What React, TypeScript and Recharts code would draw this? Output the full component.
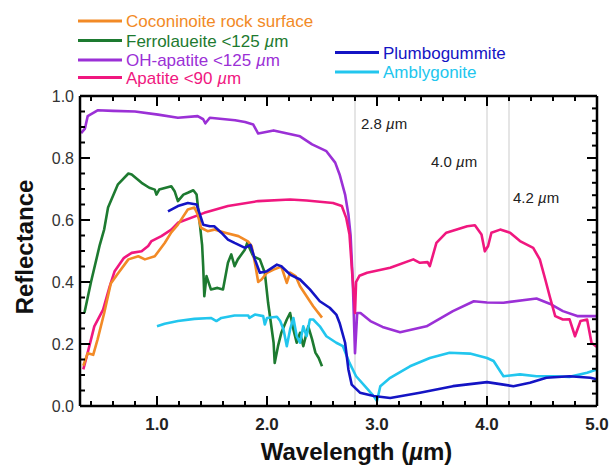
import React from "react"
import { LineChart, Line, XAxis, YAxis, ReferenceLine } from "recharts"

const FONT = '"Liberation Sans", Arial, Helvetica, sans-serif'

// tick values
const xTicks = [0.4, 0.6, 0.8, 1.0, 1.2, 1.4, 1.6, 1.8, 2.0, 2.2, 2.4, 2.6, 2.8, 3.0, 3.2, 3.4, 3.6, 3.8, 4.0, 4.2, 4.4, 4.6, 4.8, 5.0]
const yTicksLeft = [0, 0.05, 0.1, 0.15, 0.2, 0.25, 0.3, 0.35, 0.4, 0.45, 0.5, 0.55, 0.6, 0.65, 0.7, 0.75, 0.8, 0.85, 0.9, 0.95, 1.0]
const yTicksRight = [0, 0.04, 0.08, 0.12, 0.16, 0.2, 0.24, 0.28, 0.32, 0.36, 0.4, 0.44, 0.48, 0.52, 0.56, 0.6, 0.64, 0.68, 0.72, 0.76, 0.8, 0.84, 0.88, 0.92, 0.96, 1.0]
const markers = [2.8, 4.0, 4.2]

// Coconinoite rock surface
const cocoWl = [0.33, 0.37, 0.42, 0.46, 0.52, 0.58, 0.64, 0.74, 0.83, 0.89, 0.98, 1.07, 1.13, 1.19, 1.28, 1.34, 1.37, 1.40, 1.46, 1.52, 1.62, 1.74, 1.83, 1.86, 1.89, 1.92, 1.95, 2.00, 2.06, 2.13, 2.18, 2.21, 2.26, 2.30, 2.36, 2.42, 2.50]
const cocoR = [0.13, 0.17, 0.165, 0.215, 0.30, 0.395, 0.425, 0.473, 0.483, 0.473, 0.483, 0.526, 0.56, 0.585, 0.634, 0.64, 0.618, 0.575, 0.564, 0.569, 0.559, 0.548, 0.53, 0.516, 0.462, 0.40, 0.408, 0.43, 0.44, 0.45, 0.397, 0.43, 0.419, 0.386, 0.354, 0.322, 0.285]

// Ferrolaueite <125 µm
const ferroWl = [0.34, 0.40, 0.46, 0.48, 0.52, 0.555, 0.645, 0.74, 0.77, 0.86, 0.93, 0.98, 0.995, 1.02, 1.13, 1.16, 1.19, 1.24, 1.28, 1.33, 1.36, 1.39, 1.41, 1.42, 1.43, 1.45, 1.49, 1.55, 1.60, 1.645, 1.675, 1.705, 1.735, 1.80, 1.82, 1.875, 1.935, 1.98, 2.01, 2.06, 2.07, 2.10, 2.13, 2.18, 2.21, 2.24, 2.27, 2.30, 2.33, 2.375, 2.41, 2.44, 2.47, 2.50]
const ferroR = [0.30, 0.40, 0.49, 0.52, 0.57, 0.64, 0.715, 0.75, 0.747, 0.72, 0.704, 0.698, 0.682, 0.698, 0.709, 0.693, 0.661, 0.682, 0.688, 0.696, 0.682, 0.585, 0.52, 0.45, 0.354, 0.419, 0.376, 0.381, 0.376, 0.462, 0.489, 0.451, 0.473, 0.505, 0.526, 0.483, 0.473, 0.43, 0.333, 0.204, 0.139, 0.193, 0.236, 0.279, 0.30, 0.247, 0.204, 0.236, 0.193, 0.257, 0.215, 0.172, 0.155, 0.128]

// OH-apatite <125 µm
const ohWl = [0.31, 0.345, 0.37, 0.46, 0.60, 0.80, 1.01, 1.19, 1.37, 1.42, 1.44, 1.48, 1.71, 1.80, 1.875, 1.92, 2.06, 2.30, 2.41, 2.54, 2.62, 2.66, 2.71, 2.74, 2.76, 2.78, 2.80, 2.82, 2.85, 2.94, 3.05, 3.21, 3.45, 3.69, 3.88, 4.00, 4.15, 4.45, 4.57, 4.69, 4.82, 4.95, 5.0]
const ohR = [0.88, 0.895, 0.935, 0.954, 0.952, 0.95, 0.94, 0.93, 0.935, 0.925, 0.912, 0.93, 0.922, 0.916, 0.908, 0.879, 0.889, 0.87, 0.844, 0.822, 0.785, 0.747, 0.682, 0.618, 0.55, 0.40, 0.17, 0.30, 0.30, 0.274, 0.255, 0.238, 0.257, 0.306, 0.338, 0.334, 0.333, 0.347, 0.33, 0.306, 0.29, 0.29, 0.29]

// Apatite <90 µm
const apWl = [0.33, 0.37, 0.43, 0.51, 0.57, 0.615, 0.70, 0.77, 0.86, 0.92, 0.95, 1.04, 1.13, 1.19, 1.43, 1.645, 1.92, 2.21, 2.36, 2.60, 2.68, 2.72, 2.75, 2.78, 2.80, 2.81, 2.84, 2.91, 3.12, 3.33, 3.39, 3.46, 3.48, 3.54, 3.63, 3.82, 3.89, 3.95, 3.98, 4.01, 4.04, 4.12, 4.21, 4.30, 4.42, 4.48, 4.53, 4.57, 4.62, 4.69, 4.75, 4.80, 4.85, 4.91, 4.95, 5.0]
const apR = [0.118, 0.172, 0.257, 0.311, 0.386, 0.435, 0.478, 0.494, 0.499, 0.516, 0.532, 0.548, 0.569, 0.591, 0.623, 0.645, 0.661, 0.666, 0.663, 0.655, 0.645, 0.607, 0.553, 0.40, 0.30, 0.40, 0.42, 0.43, 0.446, 0.473, 0.462, 0.464, 0.451, 0.526, 0.559, 0.58, 0.583, 0.553, 0.499, 0.516, 0.559, 0.569, 0.559, 0.532, 0.51, 0.473, 0.408, 0.354, 0.29, 0.279, 0.28, 0.225, 0.274, 0.279, 0.204, 0.19]

// Plumbogummite
const plumbWl = [1.10, 1.19, 1.28, 1.36, 1.39, 1.42, 1.48, 1.52, 1.585, 1.645, 1.705, 1.80, 1.85, 1.89, 1.935, 2.00, 2.09, 2.13, 2.21, 2.30, 2.39, 2.48, 2.57, 2.63, 2.66, 2.71, 2.74, 2.77, 2.845, 2.97, 3.12, 3.39, 3.69, 4.00, 4.15, 4.24, 4.39, 4.54, 4.75, 4.94, 5.0]
const plumbR = [0.628, 0.645, 0.655, 0.65, 0.618, 0.585, 0.58, 0.58, 0.559, 0.537, 0.526, 0.51, 0.52, 0.473, 0.43, 0.435, 0.456, 0.451, 0.424, 0.408, 0.376, 0.338, 0.317, 0.295, 0.268, 0.204, 0.118, 0.069, 0.043, 0.032, 0.026, 0.043, 0.064, 0.077, 0.069, 0.064, 0.075, 0.091, 0.096, 0.091, 0.086]

// Amblygonite
const amblyWl = [1.0, 1.07, 1.19, 1.34, 1.49, 1.54, 1.585, 1.705, 1.83, 1.84, 1.89, 1.965, 1.98, 2.00, 2.09, 2.12, 2.15, 2.18, 2.21, 2.24, 2.27, 2.30, 2.33, 2.36, 2.39, 2.42, 2.48, 2.54, 2.63, 2.69, 2.75, 2.81, 2.89, 2.97, 3.00, 3.03, 3.12, 3.30, 3.48, 3.66, 3.845, 4.00, 4.06, 4.12, 4.15, 4.30, 4.45, 4.60, 4.75, 4.91, 5.0]
const amblyR = [0.257, 0.265, 0.274, 0.281, 0.284, 0.274, 0.284, 0.292, 0.292, 0.284, 0.295, 0.29, 0.263, 0.284, 0.288, 0.274, 0.247, 0.193, 0.247, 0.284, 0.225, 0.204, 0.257, 0.225, 0.279, 0.279, 0.257, 0.225, 0.204, 0.193, 0.139, 0.096, 0.064, 0.032, 0.016, 0.064, 0.091, 0.128, 0.155, 0.172, 0.169, 0.155, 0.145, 0.112, 0.096, 0.102, 0.096, 0.096, 0.094, 0.107, 0.118]

const zip = (xs: number[], ys: number[]) => xs.map((x, i) => ({ x, y: ys[i] }))

const series = [
  { name: "OH-apatite <125 µm", color: "#9b30d6", data: zip(ohWl, ohR) },
  { name: "Apatite <90 µm", color: "#f0177f", data: zip(apWl, apR) },
  { name: "Ferrolaueite <125 µm", color: "#1d7a30", data: zip(ferroWl, ferroR) },
  { name: "Coconinoite rock surface", color: "#f28a26", data: zip(cocoWl, cocoR) },
  { name: "Amblygonite", color: "#22c6ee", data: zip(amblyWl, amblyR) },
  { name: "Plumbogummite", color: "#1414c4", data: zip(plumbWl, plumbR) },
]

const legendLeft = ["Coconinoite rock surface", "Ferrolaueite <125 µm", "OH-apatite <125 µm", "Apatite <90 µm"]
const legendRight = ["Plumbogummite", "Amblygonite"]

// µ drawn italic, like the source figure
function withMu(text: string) {
  const parts = text.split("µ")
  return parts.map((p, i) => (
    <React.Fragment key={i}>
      {i > 0 && <tspan fontStyle="italic">µ</tspan>}
      {p && <tspan>{p}</tspan>}
    </React.Fragment>
  ))
}

const colorOf = (name: string) => series.find((s) => s.name === name)!.color

const isInt = (v: number) => Math.abs(v - Math.round(v)) < 1e-6
const isFifth = (v: number) => Math.abs(v * 5 - Math.round(v * 5)) < 1e-6

function BottomTick(props: any) {
  const { x, y, payload } = props
  const v = payload.value
  const major = isInt(v)
  return (
    <g>
      <line x1={x} x2={x} y1={y} y2={y - (major ? 10 : 5)} stroke="#000" strokeWidth={2} />
      {major && (
        <text x={x} y={y + 24} textAnchor="middle" fontSize={17} fontWeight="bold" fill="#222" fontFamily={FONT}>
          {v.toFixed(1)}
        </text>
      )}
    </g>
  )
}

function TopTick(props: any) {
  const { x, y, payload } = props
  const major = isInt(payload.value)
  return <line x1={x} x2={x} y1={y} y2={y + (major ? 10 : 5)} stroke="#000" strokeWidth={2} />
}

function LeftTick(props: any) {
  const { x, y, payload } = props
  const v = payload.value
  const major = isFifth(v)
  return (
    <g>
      <line x1={x} x2={x + (major ? 10 : 5)} y1={y} y2={y} stroke="#000" strokeWidth={2} />
      {major && (
        <text x={x - 6} y={y + 5.5} textAnchor="end" fontSize={16} fill="#333" fontFamily={FONT}>
          {v.toFixed(1)}
        </text>
      )}
    </g>
  )
}

function RightTick(props: any) {
  const { x, y, payload } = props
  const major = isFifth(payload.value)
  return <line x1={x} x2={x - (major ? 10 : 5)} y1={y} y2={y} stroke="#000" strokeWidth={2} />
}

const markerLabel = (text: string, dx: number, dy: number, anchor: string) => (p: any) => {
  const { x, y } = p.viewBox
  return (
    <text x={x + dx} y={y + dy} textAnchor={anchor} fontSize={15} fill="#222" fontFamily={FONT}>
      {withMu(text)}
    </text>
  )
}

const markerOffsets: Record<string, [number, number, string]> = {
  "2.8": [6, 33, "start"],
  "4.0": [-56, 71, "start"],
  "4.2": [4, 107, "start"],
}

function Legend() {
  return (
    <svg width={610} height={95} style={{ position: "absolute", left: 0, top: 0, pointerEvents: "none" }}>
      {legendLeft.map((name, i) => {
        const y = [21, 40.5, 60, 77.5][i]
        return (
          <g key={name}>
            <line x1={78} x2={122} y1={y} y2={y} stroke={colorOf(name)} strokeWidth={3} />
            <text x={126} y={y + 6} fontSize={17} fill={colorOf(name)} fontFamily={FONT}>{withMu(name)}</text>
          </g>
        )
      })}
      {legendRight.map((name, i) => {
        const y = [52.5, 72][i]
        return (
          <g key={name}>
            <line x1={335} x2={379} y1={y} y2={y} stroke={colorOf(name)} strokeWidth={3} />
            <text x={383} y={y + 6} fontSize={17} fill={colorOf(name)} fontFamily={FONT}>{name}</text>
          </g>
        )
      })}
    </svg>
  )
}

export default function App() {
  const axisLine = { stroke: "#000", strokeWidth: 2.5 }
  return (
    <div style={{ position: "absolute", left: 0, top: 0, width: 610, height: 465, background: "#fff", fontFamily: FONT }}>
      <LineChart width={610} height={465} margin={{ top: 86, right: 0, bottom: 0, left: 0 }}>
        <XAxis
          xAxisId="b"
          dataKey="x"
          type="number"
          domain={[0.3, 5]}
          allowDataOverflow
          ticks={xTicks}
          interval={0}
          orientation="bottom"
          height={59}
          tickSize={0}
          tickMargin={0}
          tickLine={false}
          axisLine={axisLine}
          tick={(p: any) => <BottomTick {...p} />}
          label={(p: any) => {
            const { x, y, width } = p.viewBox
            return (
              <text x={x + width / 2 + 18} y={y + 54} textAnchor="middle" fontSize={24} fontWeight="bold" fill="#111" fontFamily={FONT}>
                {withMu("Wavelength (µm)")}
              </text>
            )
          }}
        />
        <XAxis
          xAxisId="t"
          dataKey="x"
          type="number"
          domain={[0.3, 5]}
          allowDataOverflow
          ticks={xTicks}
          interval={0}
          orientation="top"
          height={10}
          tickSize={0}
          tickMargin={0}
          tickLine={false}
          axisLine={axisLine}
          tick={(p: any) => <TopTick {...p} />}
        />
        <YAxis
          yAxisId="l"
          type="number"
          domain={[0, 1]}
          allowDataOverflow
          ticks={yTicksLeft}
          interval={0}
          width={80}
          tickSize={0}
          tickMargin={0}
          tickLine={false}
          axisLine={axisLine}
          tick={(p: any) => <LeftTick {...p} />}
          label={(p: any) => {
            const { x, y, height } = p.viewBox
            const cx = x + 33
            const cy = y + height / 2 - 4
            return (
              <text x={cx} y={cy} transform={`rotate(-90 ${cx} ${cy})`} textAnchor="middle" fontSize={24} fontWeight="bold" fill="#111" fontFamily={FONT}>
                Reflectance
              </text>
            )
          }}
        />
        <YAxis
          yAxisId="r"
          orientation="right"
          type="number"
          domain={[0, 1]}
          allowDataOverflow
          ticks={yTicksRight}
          interval={0}
          width={13}
          tickSize={0}
          tickMargin={0}
          tickLine={false}
          axisLine={axisLine}
          tick={(p: any) => <RightTick {...p} />}
        />
        {markers.map((m) => {
          const [dx, dy, anchor] = markerOffsets[m.toFixed(1)]
          return (
            <ReferenceLine
              key={m}
              x={m}
              xAxisId="b"
              yAxisId="l"
              stroke="#cfcfcf"
              strokeWidth={1.1}
              label={markerLabel(`${m.toFixed(1)} µm`, dx, dy, anchor)}
            />
          )
        })}
        {series.map((s) => (
          <Line
            key={s.name}
            xAxisId="b"
            yAxisId="l"
            data={s.data}
            dataKey="y"
            name={s.name}
            type="linear"
            stroke={s.color}
            strokeWidth={2.6}
            strokeLinejoin="round"
            dot={false}
            activeDot={false}
            isAnimationActive={false}
          />
        ))}
      </LineChart>
      <Legend />
    </div>
  )
}
